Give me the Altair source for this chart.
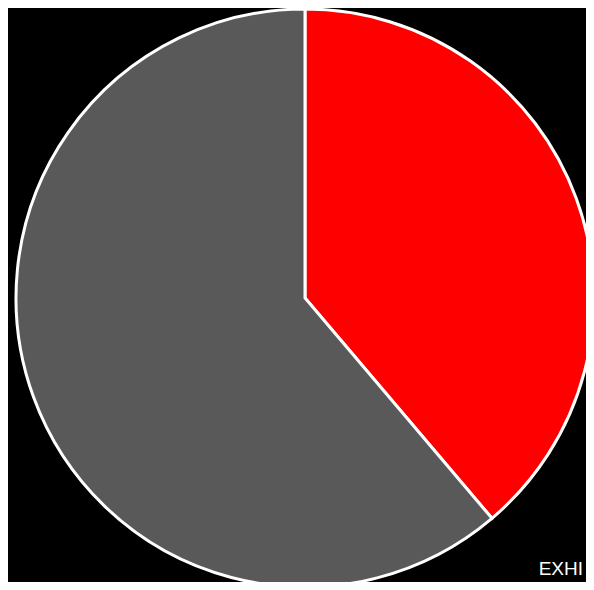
import altair as alt
import pandas as pd

categories = ["A", "B"]
values = [38.8, 61.2]
colors = ["#ff0000", "#595959"]
note = ["EXHI"]

df = pd.DataFrame({"category": categories, "value": values, "order": [0, 1]})

pie = alt.Chart(df).mark_arc(
    outerRadius=289, stroke="#ffffff", strokeWidth=3
).encode(
    theta=alt.Theta("value:Q", stack=True),
    order=alt.Order("order:Q"),
    color=alt.Color("category:N", scale=alt.Scale(domain=categories, range=colors), legend=None),
    x=alt.value(297),
    y=alt.value(290),
)

label = alt.Chart(pd.DataFrame({"t": note})).mark_text(
    align="right", baseline="alphabetic", fontSize=19, font="Liberation Sans", color="#ffffff"
).encode(text="t:N", x=alt.value(575), y=alt.value(567))

chart = alt.layer(pie, label).properties(
    width=578, height=574, background="#000000",
    autosize=alt.AutoSizeParams(type="none"), padding=0
).configure_view(stroke=None)

chart.save("out.html", embed_options={"renderer": "svg", "actions": False})
